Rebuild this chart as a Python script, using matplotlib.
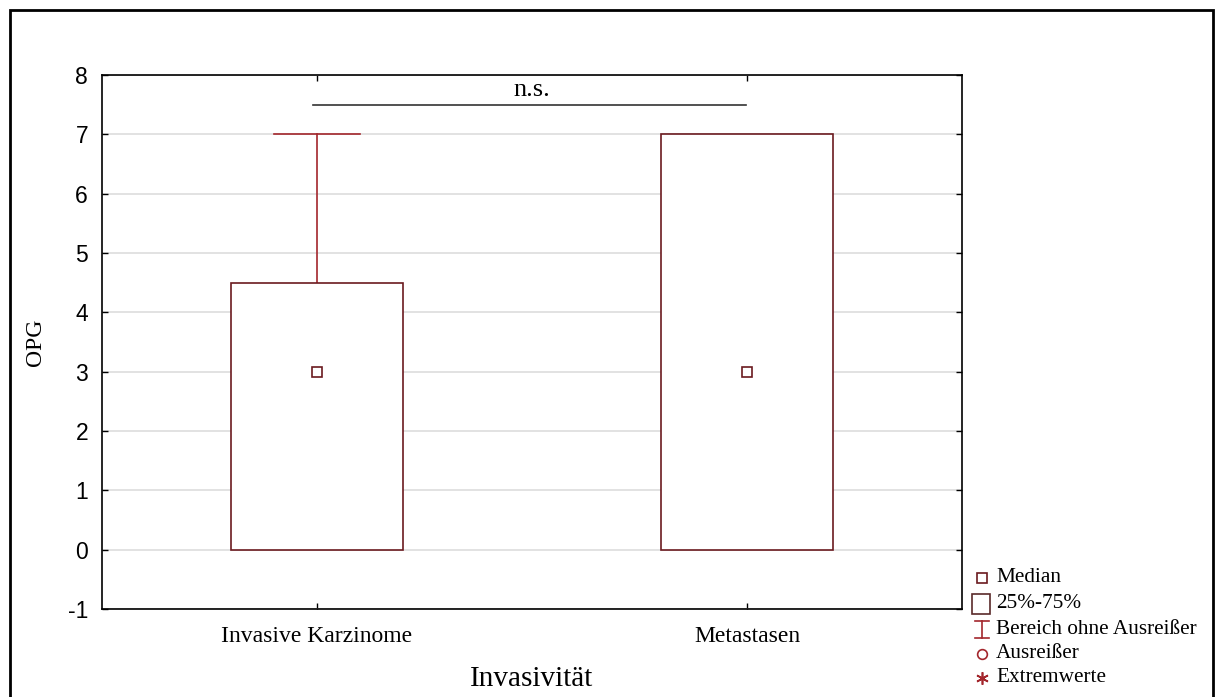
import matplotlib
matplotlib.use("Agg")
import matplotlib.pyplot as plt
from matplotlib.patches import Rectangle

# Data
categories = ["Invasive Karzinome", "Metastasen"]
q1 = [0.0, 0.0]
q3 = [4.5, 7.0]
medians = [3.0, 3.0]
whisker_low = [0.0, 0.0]
whisker_high = [7.0, 7.0]
yticks = [-1, 0, 1, 2, 3, 4, 5, 6, 7, 8]
sig_label = "n.s."
sig_level = 7.5
legend_labels = ["Median", "25%-75%", "Bereich ohne Ausreißer", "Ausreißer", "Extremwerte"]

BOX_COLOR = "#6b1a1f"
WHISKER_COLOR = "#a3262c"
SERIF = ["Liberation Serif", "DejaVu Serif"]
SANS = ["Liberation Sans", "DejaVu Sans"]

plt.rcParams["axes.unicode_minus"] = False

W, H = 1215, 697
fig = plt.figure(figsize=(W / 100, H / 100), dpi=100)

# outer frame
fig.patches.append(Rectangle((10 / W, -0.01), (1203 / W), 1 - 10 / H + 0.01,
                             transform=fig.transFigure, fill=False,
                             edgecolor="black", lw=2.0))

ax = fig.add_axes([102 / W, 1 - 609 / H, 860 / W, 534 / H])

box_w = 0.4
cap_w = 0.2
for i, _ in enumerate(categories):
    # whiskers
    if whisker_high[i] > q3[i]:
        ax.plot([i, i], [q3[i], whisker_high[i]], color=WHISKER_COLOR, lw=1.2, zorder=3)
        ax.plot([i - cap_w / 2, i + cap_w / 2], [whisker_high[i]] * 2,
                color=WHISKER_COLOR, lw=1.2, zorder=3)
    if whisker_low[i] < q1[i]:
        ax.plot([i, i], [whisker_low[i], q1[i]], color=WHISKER_COLOR, lw=1.2, zorder=3)
        ax.plot([i - cap_w / 2, i + cap_w / 2], [whisker_low[i]] * 2,
                color=WHISKER_COLOR, lw=1.2, zorder=3)
    # box
    ax.add_patch(Rectangle((i - box_w / 2, q1[i]), box_w, q3[i] - q1[i],
                           facecolor="white", edgecolor=BOX_COLOR, lw=1.2, zorder=3))
    # median marker
    ax.plot(i, medians[i], marker="s", ms=7, mfc="white", mec=BOX_COLOR, mew=1.2, zorder=4)

# significance bar
ax.plot([-0.01, 0.998], [sig_level, sig_level], color="#333333", lw=1.2)
ax.text(0.5, sig_level + 0.07, sig_label, ha="center", va="bottom",
        fontsize=19, family=SERIF)

ax.set_xlim(-0.5, 1.5)
ax.set_ylim(-1, 8)
ax.set_yticks(yticks)
ax.set_xticks(range(len(categories)))
ax.set_xticklabels(categories, family=SERIF, fontsize=17)
for lbl in ax.get_yticklabels():
    lbl.set_family(SANS)
    lbl.set_fontsize(16.5)
ax.tick_params(direction="in", length=4, top=True, right=True, width=1, pad=10)
ax.tick_params(axis="x", pad=12)
ax.yaxis.grid(True, color="#dddddd", lw=1.2, zorder=0)
ax.set_axisbelow(True)
for s in ax.spines.values():
    s.set_linewidth(1.2)

ax.set_ylabel("OPG", family=SERIF, fontsize=17, labelpad=16)
ax.set_xlabel("Invasivität", family=SERIF, fontsize=21, labelpad=14)

# legend drawn in pixel coordinates
leg = fig.add_axes([0, 0, 1, 1], facecolor="none")
leg.set_xlim(0, W)
leg.set_ylim(H, 0)
leg.axis("off")
rows = [578, 603, 629, 654, 678]
mx = 982
leg.plot(mx, rows[0], marker="s", ms=7, mfc="white", mec=BOX_COLOR, mew=1.2)
leg.add_patch(Rectangle((972, rows[1] - 9), 18, 20, fill=False, edgecolor="#5a2a2a", lw=1.2))
leg.plot([mx, mx], [rows[2] - 8, rows[2] + 9], color=WHISKER_COLOR, lw=1.2)
leg.plot([mx - 7, mx + 7], [rows[2] - 8] * 2, color=WHISKER_COLOR, lw=1.2)
leg.plot([mx - 7, mx + 7], [rows[2] + 9] * 2, color=WHISKER_COLOR, lw=1.2)
leg.plot(mx, rows[3], marker="o", ms=7, mfc="white", mec=WHISKER_COLOR, mew=1.2)
leg.plot(mx, rows[4], marker=(6, 2, 0), ms=9, mec=WHISKER_COLOR, mew=1.2)
for y, txt in zip(rows, legend_labels):
    leg.text(996, y, txt, family=SERIF, fontsize=15.3, va="center", ha="left")

fig.savefig("out.png", dpi=100)
